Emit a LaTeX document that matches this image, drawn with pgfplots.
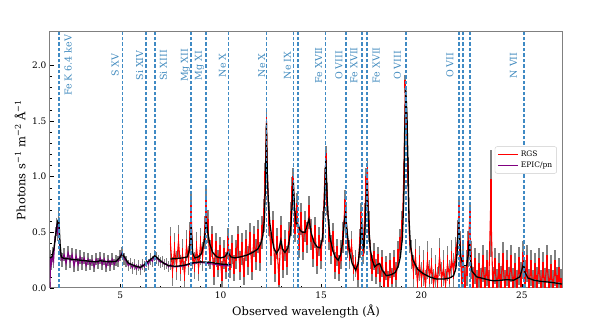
\documentclass[border=0pt]{standalone}
\usepackage{pgfplots}
\pgfplotsset{compat=1.18}
\usepackage{pgfplotstable}
\usepackage{fontspec}
\setmainfont{DejaVu Serif}
\definecolor{tabblue}{HTML}{1F77B4}
\definecolor{lineblue}{HTML}{3F8AC4}
\definecolor{mplpurple}{HTML}{800080}
\definecolor{errgray}{HTML}{808080}

% RGS spectrum: wavelength, flux, 1-sigma error
\pgfplotstableread{
x y e
7.5 0.40 0.15
7.6 0.15 0.13
7.7 0.35 0.14
7.8 0.20 0.13
7.9 0.42 0.15
8.0 0.18 0.12
8.1 0.30 0.14
8.2 0.12 0.12
8.3 0.38 0.14
8.4 0.25 0.13
8.47 0.45 0.14
8.53 0.68 0.16
8.6 0.30 0.13
8.7 0.20 0.12
8.8 0.36 0.14
8.9 0.18 0.12
9.0 0.40 0.14
9.1 0.28 0.13
9.2 0.50 0.15
9.28 0.73 0.16
9.35 0.55 0.15
9.45 0.30 0.13
9.55 0.42 0.14
9.65 0.15 0.12
9.75 0.36 0.13
9.85 0.22 0.12
9.95 0.33 0.13
10.05 0.12 0.12
10.15 0.30 0.13
10.25 0.20 0.12
10.37 0.40 0.14
10.45 0.22 0.13
10.55 0.35 0.13
10.65 0.18 0.12
10.75 0.30 0.13
10.85 0.42 0.14
10.95 0.20 0.13
11.05 0.35 0.14
11.15 0.15 0.12
11.25 0.38 0.14
11.35 0.25 0.13
11.45 0.44 0.14
11.55 0.20 0.13
11.65 0.42 0.14
11.75 0.30 0.14
11.85 0.46 0.15
11.95 0.28 0.13
12.05 0.50 0.15
12.15 0.65 0.15
12.22 1.00 0.12
12.28 1.50 0.08
12.33 1.02 0.12
12.4 0.62 0.15
12.5 0.35 0.14
12.6 0.55 0.14
12.7 0.18 0.13
12.8 0.40 0.14
12.9 0.08 0.12
13.0 0.50 0.15
13.1 0.22 0.13
13.2 0.38 0.14
13.3 0.25 0.13
13.4 0.45 0.14
13.5 0.62 0.15
13.56 0.85 0.15
13.62 0.95 0.13
13.7 0.55 0.14
13.8 0.70 0.15
13.9 0.40 0.13
14.0 0.62 0.14
14.1 0.38 0.13
14.2 0.55 0.14
14.3 0.45 0.14
14.4 0.68 0.15
14.5 0.48 0.14
14.6 0.32 0.13
14.7 0.50 0.14
14.8 0.25 0.12
14.9 0.42 0.13
15.0 0.30 0.13
15.1 0.55 0.14
15.18 0.95 0.13
15.24 1.16 0.12
15.3 0.80 0.14
15.4 0.48 0.14
15.5 0.35 0.13
15.6 0.45 0.13
15.7 0.20 0.12
15.8 0.32 0.12
15.9 0.18 0.12
16.0 0.30 0.13
16.1 0.45 0.14
16.18 0.73 0.15
16.25 0.62 0.14
16.32 0.40 0.13
16.42 0.30 0.13
16.52 0.38 0.13
16.62 0.18 0.12
16.72 0.22 0.12
16.82 0.12 0.11
16.92 0.40 0.13
17.0 0.62 0.14
17.08 0.35 0.13
17.17 0.62 0.14
17.25 0.95 0.13
17.31 1.05 0.12
17.38 0.55 0.14
17.46 0.30 0.13
17.55 0.18 0.12
17.65 0.28 0.12
17.75 0.15 0.11
17.85 0.25 0.12
17.95 0.10 0.11
18.05 0.22 0.12
18.15 0.05 0.10
18.25 0.18 0.11
18.35 0.05 0.10
18.45 0.20 0.11
18.55 0.08 0.10
18.65 0.22 0.12
18.75 0.12 0.11
18.85 0.30 0.12
18.95 0.40 0.13
19.05 0.55 0.14
19.12 1.00 0.12
19.2 1.83 0.08
19.26 1.55 0.10
19.32 1.05 0.13
19.4 0.45 0.14
19.5 0.30 0.13
19.6 0.15 0.15
19.7 0.28 0.16
19.8 0.05 0.14
19.9 0.22 0.16
20.0 0.08 0.15
20.1 0.18 0.16
20.2 0.02 0.14
20.3 0.25 0.17
20.4 0.10 0.15
20.5 0.20 0.16
20.6 0.03 0.14
20.7 0.15 0.15
20.8 0.05 0.14
20.9 0.28 0.17
21.0 0.08 0.15
21.1 0.18 0.16
21.2 0.03 0.14
21.3 0.22 0.16
21.4 0.10 0.15
21.5 0.26 0.17
21.6 0.15 0.16
21.7 0.30 0.16
21.8 0.45 0.16
21.86 0.68 0.14
21.92 0.35 0.16
22.0 0.10 0.15
22.08 0.25 0.17
22.16 0.05 0.14
22.25 0.18 0.16
22.33 0.35 0.16
22.4 0.62 0.15
22.48 0.25 0.17
22.56 0.05 0.14
22.65 0.20 0.16
22.75 0.02 0.14
22.85 0.15 0.16
22.95 0.04 0.14
23.05 0.22 0.17
23.15 0.05 0.14
23.25 0.18 0.16
23.35 0.02 0.14
23.45 0.76 0.48
23.55 0.05 0.14
23.65 0.20 0.16
23.75 0.03 0.14
23.85 0.15 0.16
23.95 0.06 0.14
24.05 0.24 0.17
24.15 0.02 0.14
24.25 0.18 0.16
24.35 0.05 0.14
24.45 0.22 0.17
24.55 0.04 0.14
24.65 0.15 0.16
24.75 0.02 0.14
24.85 0.20 0.17
24.95 0.08 0.15
25.05 0.25 0.17
25.15 0.10 0.15
25.25 0.22 0.17
25.35 0.03 0.14
25.45 0.18 0.16
25.55 0.02 0.14
25.65 0.15 0.16
25.75 0.05 0.14
25.85 0.20 0.16
25.95 0.02 0.14
26.05 0.16 0.16
26.15 0.04 0.14
26.25 0.22 0.17
26.35 0.03 0.14
26.45 0.14 0.16
26.55 0.02 0.14
26.65 0.18 0.16
26.75 0.05 0.14
26.85 0.12 0.15
26.95 0.03 0.14
}\rgs

% EPIC/pn spectrum
\pgfplotstableread{
x y e
1.50 0.00 0.05
1.53 0.28 0.06
1.58 0.22 0.06
1.63 0.30 0.07
1.68 0.25 0.07
1.73 0.40 0.07
1.78 0.48 0.07
1.83 0.55 0.08
1.88 0.50 0.08
1.93 0.62 0.08
1.98 0.40 0.07
2.03 0.30 0.06
2.1 0.25 0.06
2.2 0.30 0.06
2.3 0.22 0.06
2.4 0.32 0.06
2.5 0.24 0.06
2.6 0.30 0.06
2.7 0.20 0.06
2.8 0.29 0.06
2.9 0.21 0.06
3.0 0.28 0.06
3.1 0.22 0.06
3.2 0.27 0.05
3.3 0.20 0.05
3.4 0.26 0.05
3.5 0.21 0.05
3.6 0.25 0.05
3.7 0.19 0.05
3.8 0.26 0.05
3.9 0.22 0.05
4.0 0.27 0.05
4.1 0.21 0.05
4.2 0.26 0.05
4.3 0.19 0.05
4.4 0.25 0.05
4.5 0.20 0.05
4.6 0.26 0.05
4.7 0.21 0.05
4.8 0.25 0.05
4.9 0.24 0.05
5.0 0.29 0.05
5.1 0.32 0.05
5.2 0.26 0.05
5.3 0.24 0.05
5.4 0.20 0.05
5.5 0.22 0.05
5.6 0.18 0.05
5.7 0.21 0.05
5.8 0.17 0.05
5.9 0.20 0.05
6.0 0.17 0.05
6.1 0.21 0.05
6.2 0.19 0.05
6.3 0.24 0.05
6.4 0.21 0.05
6.5 0.26 0.05
6.6 0.24 0.05
6.7 0.29 0.05
6.8 0.27 0.05
6.9 0.25 0.05
7.0 0.23 0.05
7.1 0.24 0.05
7.2 0.21 0.05
7.3 0.22 0.05
7.4 0.19 0.05
7.5 0.21 0.05
7.6 0.19 0.05
7.8 0.19 0.02
8.2 0.20 0.02
8.6 0.22 0.02
9.0 0.23 0.02
9.4 0.22 0.02
9.8 0.21 0.02
10.2 0.20 0.02
10.5 0.20 0.02
}\epic

% fitted models
\pgfplotstableread{
x y
1.5 0.27
1.6 0.28
1.7 0.36
1.8 0.50
1.88 0.60
1.94 0.62
2.0 0.40
2.06 0.28
2.2 0.265
2.5 0.26
3.0 0.25
3.5 0.24
3.8 0.235
4.0 0.245
4.2 0.24
4.5 0.235
4.8 0.24
5.0 0.28
5.1 0.31
5.2 0.28
5.4 0.225
5.7 0.20
6.0 0.185
6.2 0.21
6.4 0.24
6.6 0.27
6.72 0.29
6.85 0.27
7.1 0.23
7.4 0.20
7.8 0.195
8.2 0.205
8.6 0.225
9.0 0.235
9.5 0.23
10.0 0.215
10.5 0.21
}\epicmodel

\pgfplotstableread{
x y
7.5 0.26
7.8 0.265
8.1 0.27
8.35 0.28
8.45 0.35
8.53 0.55
8.6 0.32
8.7 0.27
8.9 0.28
9.05 0.31
9.18 0.42
9.28 0.61
9.36 0.50
9.45 0.40
9.6 0.32
9.8 0.28
10.0 0.27
10.2 0.28
10.37 0.32
10.5 0.28
10.7 0.27
11.0 0.28
11.3 0.295
11.6 0.32
11.85 0.35
12.0 0.40
12.1 0.47
12.18 0.62
12.24 1.00
12.28 1.48
12.32 1.04
12.38 0.75
12.45 0.58
12.55 0.45
12.65 0.36
12.78 0.31
12.9 0.35
13.0 0.43
13.08 0.35
13.2 0.32
13.35 0.36
13.48 0.50
13.56 0.75
13.62 0.95
13.68 0.72
13.76 0.58
13.86 0.57
13.95 0.52
14.08 0.50
14.2 0.50
14.3 0.56
14.4 0.62
14.5 0.50
14.65 0.41
14.8 0.37
14.95 0.36
15.08 0.45
15.16 0.75
15.24 1.15
15.3 0.82
15.36 0.62
15.45 0.45
15.58 0.34
15.7 0.28
15.85 0.25
15.98 0.30
16.08 0.42
16.16 0.60
16.22 0.67
16.3 0.50
16.42 0.32
16.55 0.22
16.72 0.16
16.85 0.22
16.95 0.40
17.02 0.60
17.08 0.40
17.14 0.35
17.22 0.70
17.29 0.95
17.36 0.60
17.45 0.35
17.55 0.25
17.67 0.19
17.8 0.21
17.92 0.22
18.05 0.16
18.25 0.11
18.5 0.12
18.7 0.14
18.85 0.20
18.95 0.28
19.05 0.45
19.12 0.80
19.18 1.50
19.22 1.78
19.28 1.55
19.33 1.10
19.38 0.62
19.45 0.38
19.58 0.25
19.8 0.17
20.08 0.13
20.4 0.10
20.75 0.08
21.1 0.08
21.4 0.09
21.6 0.11
21.72 0.18
21.8 0.40
21.85 0.60
21.9 0.45
21.96 0.28
22.08 0.20
22.25 0.20
22.33 0.30
22.38 0.43
22.44 0.25
22.52 0.15
22.75 0.10
23.08 0.085
23.4 0.07
23.6 0.065
24.0 0.07
24.25 0.075
24.6 0.07
24.9 0.10
25.0 0.16
25.08 0.22
25.16 0.14
25.3 0.09
25.6 0.07
25.92 0.06
26.5 0.05
27.0 0.035
}\rgsmodel

\begin{document}
\begin{tikzpicture}
\path[use as bounding box, fill=white] (-50pt,-32pt) rectangle (548pt,288pt);
\begin{axis}[
  width=512pt, height=256pt, scale only axis,
  at={(0,0)}, anchor=south west,
  xmin=1.5, xmax=27, ymin=0, ymax=2.3,
  xtick={5,10,15,20,25},
  ytick={0,0.5,1,1.5,2},
  minor x tick num=4, minor y tick num=4,
  tick align=inside, xtick pos=bottom, ytick pos=left,
  major tick length=4pt, minor tick length=2pt,
  tick style={black, line width=0.6pt},
  axis line style={gray, line width=1pt},
  /pgf/number format/assume math mode=true,
  yticklabel style={/pgf/number format/fixed, /pgf/number format/fixed zerofill, /pgf/number format/precision=1},
  tick label style={font=\fontsize{9}{10}\selectfont},
  label style={font=\fontsize{11.5}{13}\selectfont},
  xlabel={Observed wavelength (Å)},
  ylabel={Photons s\textsuperscript{−1} m\textsuperscript{−2} Å\textsuperscript{−1}},
  xlabel style={at={(axis description cs:0.5,-0.0926)}, anchor=center},
  ylabel style={at={(axis description cs:-0.0586,0.5)}, anchor=center},
  legend style={at={(axis description cs:0.99,0.5)}, anchor=east,
    font=\fontsize{7.5}{8}\selectfont, draw=gray!40, rounded corners=2pt,
    fill=white, inner sep=2.5pt, row sep=-0.5pt},
  legend cell align=left,
  legend image code/.code={\draw[#1, line width=1.3pt] (0pt,0pt) -- (20pt,0pt);},
]
% error bars
\addplot[draw=none, mark=none, forget plot,
  error bars/.cd, y dir=both, y explicit,
  error bar style={draw=errgray, solid, line width=1.6pt}, error mark=none]
  table[x=x, y=y, y error=e] {\epic};
\addplot[draw=none, mark=none, forget plot,
  error bars/.cd, y dir=both, y explicit,
  error bar style={draw=errgray, solid, line width=1.8pt}, error mark=none]
  table[x=x, y=y, y error=e] {\rgs};
% data
\addplot[draw=none, mark=none, forget plot,
  error bars/.cd, y dir=both, y explicit,
  error bar style={draw=red, solid, line width=1.8pt}, error mark=none]
  table[x=x, y=y, y error expr=0.45*\thisrow{e}] {\rgs};
\addplot[red, line width=1.1pt, mark=none] table[x=x, y=y] {\rgs};
\addlegendentry{RGS}
\addplot[draw=mplpurple, line width=1.1pt, mark=none] table[x=x, y=y] {\epic};
\addlegendentry{EPIC/pn}
% models
\addplot[black, line width=1.3pt, mark=none, forget plot] table[x=x, y=y] {\epicmodel};
\addplot[black, line width=1.3pt, mark=none, forget plot] table[x=x, y=y] {\rgsmodel};
% line identifications
\pgfplotsinvokeforeach{1.95,5.12,6.27,6.72,8.53,9.28,10.38,12.28,13.62,13.85,15.23,16.25,17.03,17.3,19.23,21.88,22.08,22.42,25.11}{
  \addplot[draw=lineblue, line width=1.5pt, dash pattern=on 3.5pt off 2pt, mark=none, forget plot]
    coordinates {(#1,0) (#1,2.3)};
}
\begin{scope}[every node/.style={rotate=90, text=tabblue!85!white, font=\fontsize{9.5}{11}\selectfont, anchor=center}]
\node at (axis cs:2.4,2.0) {Fe K 6.4 keV};
\node at (axis cs:4.75,2.0) {S XV};
\node at (axis cs:5.97,2.0) {Si XIV};
\node at (axis cs:7.15,2.0) {Si XIII};
\node at (axis cs:8.25,2.0) {Mg XII};
\node at (axis cs:8.95,2.0) {Mg XI};
\node at (axis cs:10.09,2.0) {Ne X};
\node at (axis cs:12.05,2.0) {Ne X};
\node at (axis cs:13.33,2.0) {Ne IX};
\node at (axis cs:14.88,2.0) {Fe XVII};
\node at (axis cs:15.89,2.0) {O VIII};
\node at (axis cs:16.64,2.0) {Fe XVII};
\node at (axis cs:17.75,2.0) {Fe XVII};
\node at (axis cs:18.8,2.0) {O VIII};
\node at (axis cs:21.42,2.0) {O VII};
\node at (axis cs:24.58,2.0) {N VII};
\end{scope}
\end{axis}
\end{tikzpicture}
\end{document}
